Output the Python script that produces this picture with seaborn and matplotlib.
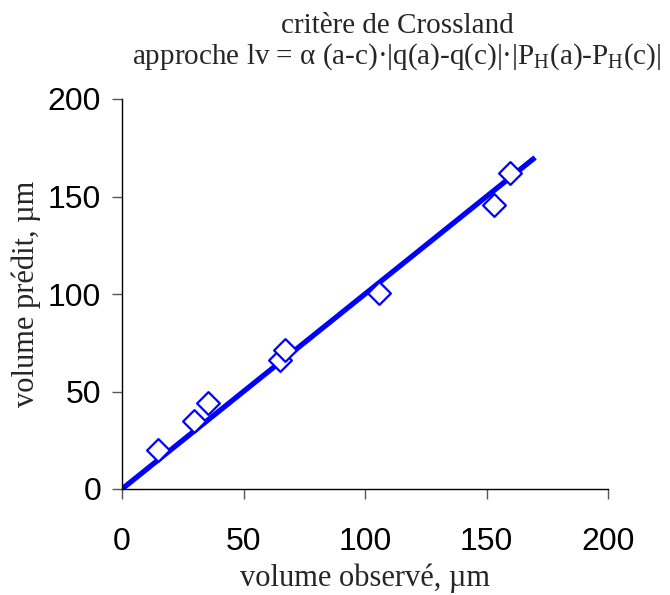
import matplotlib
matplotlib.use("Agg")
import matplotlib.pyplot as plt
import seaborn as sns
import pandas as pd

# Observed vs predicted volumes (µm)
volume_observe = [14.9, 29.5, 35.5, 65.0, 67.2, 105.8, 153.2, 159.8]
volume_predit = [19.8, 35.1, 44.2, 66.3, 71.4, 100.5, 145.5, 162.0]

# Reference line y = x
droite_x = [0, 170]
droite_y = [0, 170]

ticks = [0, 50, 100, 150, 200]

sns.set_style("ticks")
plt.rcParams["font.family"] = ["Liberation Sans", "DejaVu Sans"]
plt.rcParams["mathtext.fontset"] = "custom"
plt.rcParams["mathtext.rm"] = "Liberation Serif"
plt.rcParams["mathtext.it"] = "Liberation Serif:italic"

points = pd.DataFrame({"obs": volume_observe, "pred": volume_predit})
droite = pd.DataFrame({"x": droite_x, "y": droite_y})

fig = plt.figure(figsize=(6.70, 5.95), dpi=100)
ax = fig.add_axes([122 / 670, 1 - 489 / 595, 486 / 670, 390 / 595])

sns.lineplot(data=droite, x="x", y="y", ax=ax, color="#0000ff", linewidth=3.8,
             solid_capstyle="butt", zorder=2)
sns.scatterplot(data=points, x="obs", y="pred", ax=ax, marker="D", s=135,
                facecolor="white", edgecolor="#0000ff", linewidth=1.6, zorder=3)

ax.set_xlim(0, 200)
ax.set_ylim(0, 200)
ax.set_xticks(ticks)
ax.set_yticks(ticks)
ax.set_xticklabels([str(t) for t in ticks])
ax.set_yticklabels([str(t) for t in ticks])

sns.despine(ax=ax)
for s in ("left", "bottom"):
    ax.spines[s].set_color("black")
    ax.spines[s].set_linewidth(1.0)
ax.tick_params(axis="both", direction="out", length=7, width=1.0,
               color="#555555", labelsize=23, labelcolor="black")
ax.tick_params(axis="x", pad=20)
ax.tick_params(axis="y", pad=8)

serif = ["Liberation Serif", "DejaVu Serif"]
ax.set_xlabel("volume observé, µm", fontsize=22, family=serif, labelpad=5)
ax.set_ylabel("volume prédit, µm", fontsize=22, family=serif, labelpad=5)

fig.text(397 / 670, 1 - 33 / 595, "critère de Crossland", ha="center",
         va="baseline", fontsize=21, family=serif)
fig.text(397 / 670, 1 - 64 / 595,
         r"approche lv = α (a-c)·|q(a)-q(c)|·|P$_{\mathrm{H}}$(a)-P$_{\mathrm{H}}$(c)|",
         ha="center", va="baseline", fontsize=21, family=serif)

fig.savefig("out.png", dpi=100)
